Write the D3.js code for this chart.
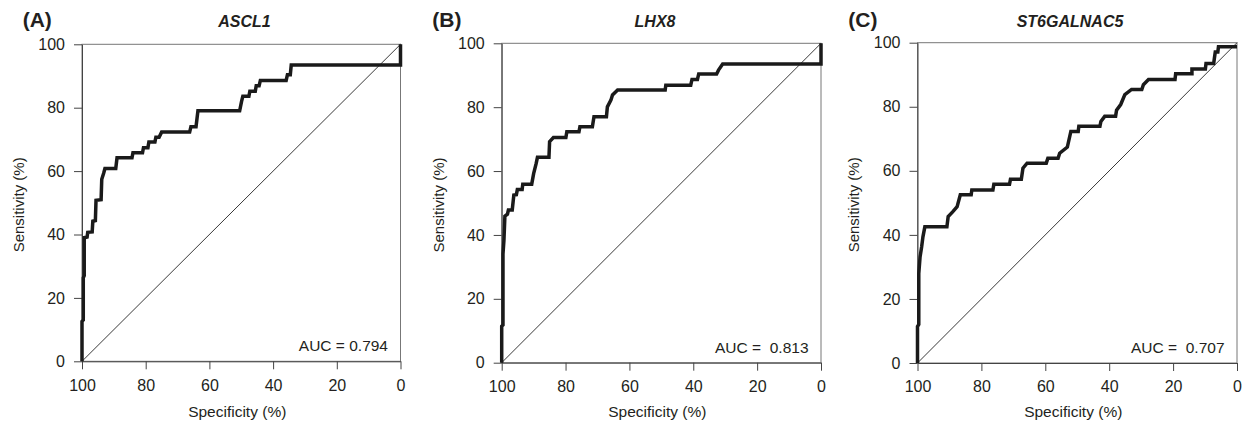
<!DOCTYPE html>
<html>
<head>
<meta charset="UTF-8"/>
<title>ROC curves</title>
<script src="https://d3js.org/d3.v7.min.js"></script>
<style>
body { margin: 0; background: #fff; }
svg text { font-family: "Liberation Sans", Arial, sans-serif; fill: #231f20; }
</style>
</head>
<body>
<div id="chart"></div>
<script>

// DATA
var panelLabels = ["(A)", "(B)", "(C)"];
var genes = ["ASCL1", "LHX8", "ST6GALNAC5"];
var aucText = ["AUC = 0.794", "AUC =  0.813", "AUC =  0.707"];
var xTicks = [100, 80, 60, 40, 20, 0];
var yTicks = [0, 20, 40, 60, 80, 100];

// specificity (%) / sensitivity (%) pairs
var specA = [100, 100, 99.6, 99.6, 99.3, 99.3, 98.4, 98.2, 96.8, 96.6, 95.8, 95.6, 94.0, 93.8, 93.2, 92.8, 89.4, 89.0, 84.3, 84.0, 81.0, 80.7, 79.3, 79.0, 77.1, 76.8, 75.8, 75.0, 66.2, 65.8, 64.2, 63.6, 50.5, 49.9, 49.5, 47.6, 47.3, 45.6, 45.3, 44.4, 44.0, 35.9, 35.5, 34.6, 34.3, 0, 0];
var sensA = [0, 12.6, 13.0, 26.3, 27.0, 39.0, 39.2, 40.7, 40.8, 44.2, 44.4, 50.8, 51.0, 57.4, 59.3, 60.8, 60.8, 64.2, 64.2, 65.8, 65.8, 67.4, 67.4, 69.2, 69.2, 70.7, 70.7, 72.3, 72.3, 74.0, 74.0, 79.0, 79.0, 82.0, 83.6, 83.6, 85.2, 85.2, 86.9, 86.9, 88.6, 88.6, 90.4, 90.4, 93.5, 93.5, 100];

var specB = [100, 100, 99.6, 99.6, 99.3, 99.0, 98.2, 97.9, 96.7, 96.2, 95.4, 95.1, 93.6, 93.4, 90.6, 90.0, 89.2, 88.8, 85.2, 85.0, 83.8, 79.9, 79.6, 75.8, 75.5, 71.6, 71.1, 67.2, 66.9, 65.8, 65.3, 63.7, 48.8, 48.6, 40.8, 40.4, 38.7, 38.3, 32.7, 32.1, 30.8, 0, 0];
var sensB = [0, 11.4, 11.8, 34.0, 38.3, 45.9, 46.5, 47.8, 47.8, 52.5, 52.6, 54.2, 54.2, 55.9, 55.9, 59.2, 62.4, 64.3, 64.3, 69.2, 70.5, 70.5, 72.3, 72.3, 73.9, 73.9, 77.0, 77.0, 80.1, 82.2, 83.8, 85.4, 85.4, 86.9, 86.9, 88.7, 88.7, 90.4, 90.4, 91.6, 93.5, 93.5, 100];

var specC = [100, 100, 99.6, 99.6, 99.2, 98.7, 98.3, 97.7, 90.8, 90.4, 89.0, 87.6, 86.6, 83.2, 83.0, 76.4, 76.1, 71.2, 70.9, 67.5, 67.0, 65.7, 59.7, 59.2, 56.0, 55.5, 53.1, 52.0, 49.7, 49.5, 42.9, 42.6, 41.4, 38.0, 37.7, 36.4, 35.1, 33.0, 29.8, 29.3, 27.7, 19.4, 19.2, 14.1, 14.1, 9.9, 9.7, 7.3, 7.1, 6.8, 6.0, 5.8, 0];
var sensC = [0, 11.4, 12.0, 27.9, 33.1, 36.3, 39.4, 42.5, 42.5, 45.7, 47.2, 48.8, 52.5, 52.5, 54.0, 54.0, 55.8, 55.8, 57.4, 57.4, 60.8, 62.4, 62.4, 63.9, 63.9, 65.5, 67.4, 72.3, 72.3, 73.9, 73.9, 75.4, 77.0, 77.0, 78.9, 80.7, 83.8, 85.4, 85.4, 86.9, 88.5, 88.5, 90.3, 90.3, 91.8, 91.8, 93.5, 93.5, 95.0, 97.1, 97.1, 98.7, 98.7];

var specs = [specA, specB, specC];
var senss = [sensA, sensB, sensC];

// LAYOUT (pixel frames for each panel)
var frames = [
	{x0: 82,    x1: 400.5, top: 44.3, bottom: 361.3, lab: 22.7,  title: 244.5},
	{x0: 501.7, x1: 821,   top: 43.3, bottom: 362.7, lab: 432.3, title: 655},
	{x0: 917.5, x1: 1237,  top: 42.7, bottom: 363,   lab: 848.3, title: 1070}
];

var svg = d3.select("#chart").append("svg")
		.attr("width", 1242)
		.attr("height", 426);

for (var i = 0; i < 3; i++) {
	var f = frames[i];
	var x = d3.scaleLinear().domain([100, 0]).range([f.x0, f.x1]);
	var y = d3.scaleLinear().domain([0, 100]).range([f.bottom, f.top]);
	var g = svg.append("g");

	// box
	g.append("rect")
		.attr("x", x(100))
		.attr("y", y(100))
		.attr("width", x(0) - x(100))
		.attr("height", y(0) - y(100))
		.attr("fill", "none")
		.attr("stroke", "#777")
		.attr("stroke-width", 1);

	// axes
	var ay = g.append("g")
		.attr("transform", "translate(" + x(100) + ",0)")
		.call(d3.axisLeft(y).tickValues(yTicks).tickSize(8).tickSizeOuter(0).tickPadding(9));
	var ax = g.append("g")
		.attr("transform", "translate(0," + y(0) + ")")
		.call(d3.axisBottom(x).tickValues(xTicks).tickSize(8).tickSizeOuter(0).tickPadding(10));
	[ax, ay].forEach(function(a) {
		a.select(".domain").attr("stroke", "#444");
		a.selectAll(".tick line").attr("stroke", "#444");
		a.selectAll("text")
			.attr("font-size", "16px")
			.attr("font-family", "'Liberation Sans', Arial, sans-serif")
			.attr("fill", "#231f20");
	});

	// chance diagonal
	g.append("line")
		.attr("x1", x(100)).attr("y1", y(0))
		.attr("x2", x(0)).attr("y2", y(100))
		.attr("stroke", "#222")
		.attr("stroke-width", 0.9);

	// ROC curve
	var pts = d3.zip(specs[i], senss[i]);
	var line = d3.line()
		.x(function(d) { return x(d[0]); })
		.y(function(d) { return y(d[1]); });
	g.append("path")
		.attr("d", line(pts))
		.attr("fill", "none")
		.attr("stroke", "#1a1a1a")
		.attr("stroke-width", 3.5)
		.attr("stroke-linejoin", "miter");

	// texts
	g.append("text")
		.attr("x", f.lab)
		.attr("y", 27)
		.attr("font-size", "21px")
		.attr("font-weight", "bold")
		.text(panelLabels[i]);
	g.append("text")
		.attr("x", f.title)
		.attr("y", 27)
		.attr("text-anchor", "middle")
		.attr("font-size", "16px")
		.attr("font-weight", "bold")
		.attr("font-style", "italic")
		.text(genes[i]);
	g.append("text")
		.attr("x", x(0) - 12.5)
		.attr("y", y(0) - 10)
		.attr("text-anchor", "end")
		.attr("font-size", "15.5px")
		.style("white-space", "pre")
		.text(aucText[i]);
	g.append("text")
		.attr("x", (x(100) + x(0)) / 2 - 4)
		.attr("y", 417)
		.attr("text-anchor", "middle")
		.attr("font-size", "15.5px")
		.text("Specificity (%)");
	g.append("text")
		.attr("transform", "translate(" + (x(100) - 63) + "," + ((y(0) + y(100)) / 2 + 2) + ") rotate(-90)")
		.attr("dy", "0.33em")
		.attr("text-anchor", "middle")
		.attr("font-size", "15px")
		.text("Sensitivity (%)");
}
</script>
</body>
</html>
